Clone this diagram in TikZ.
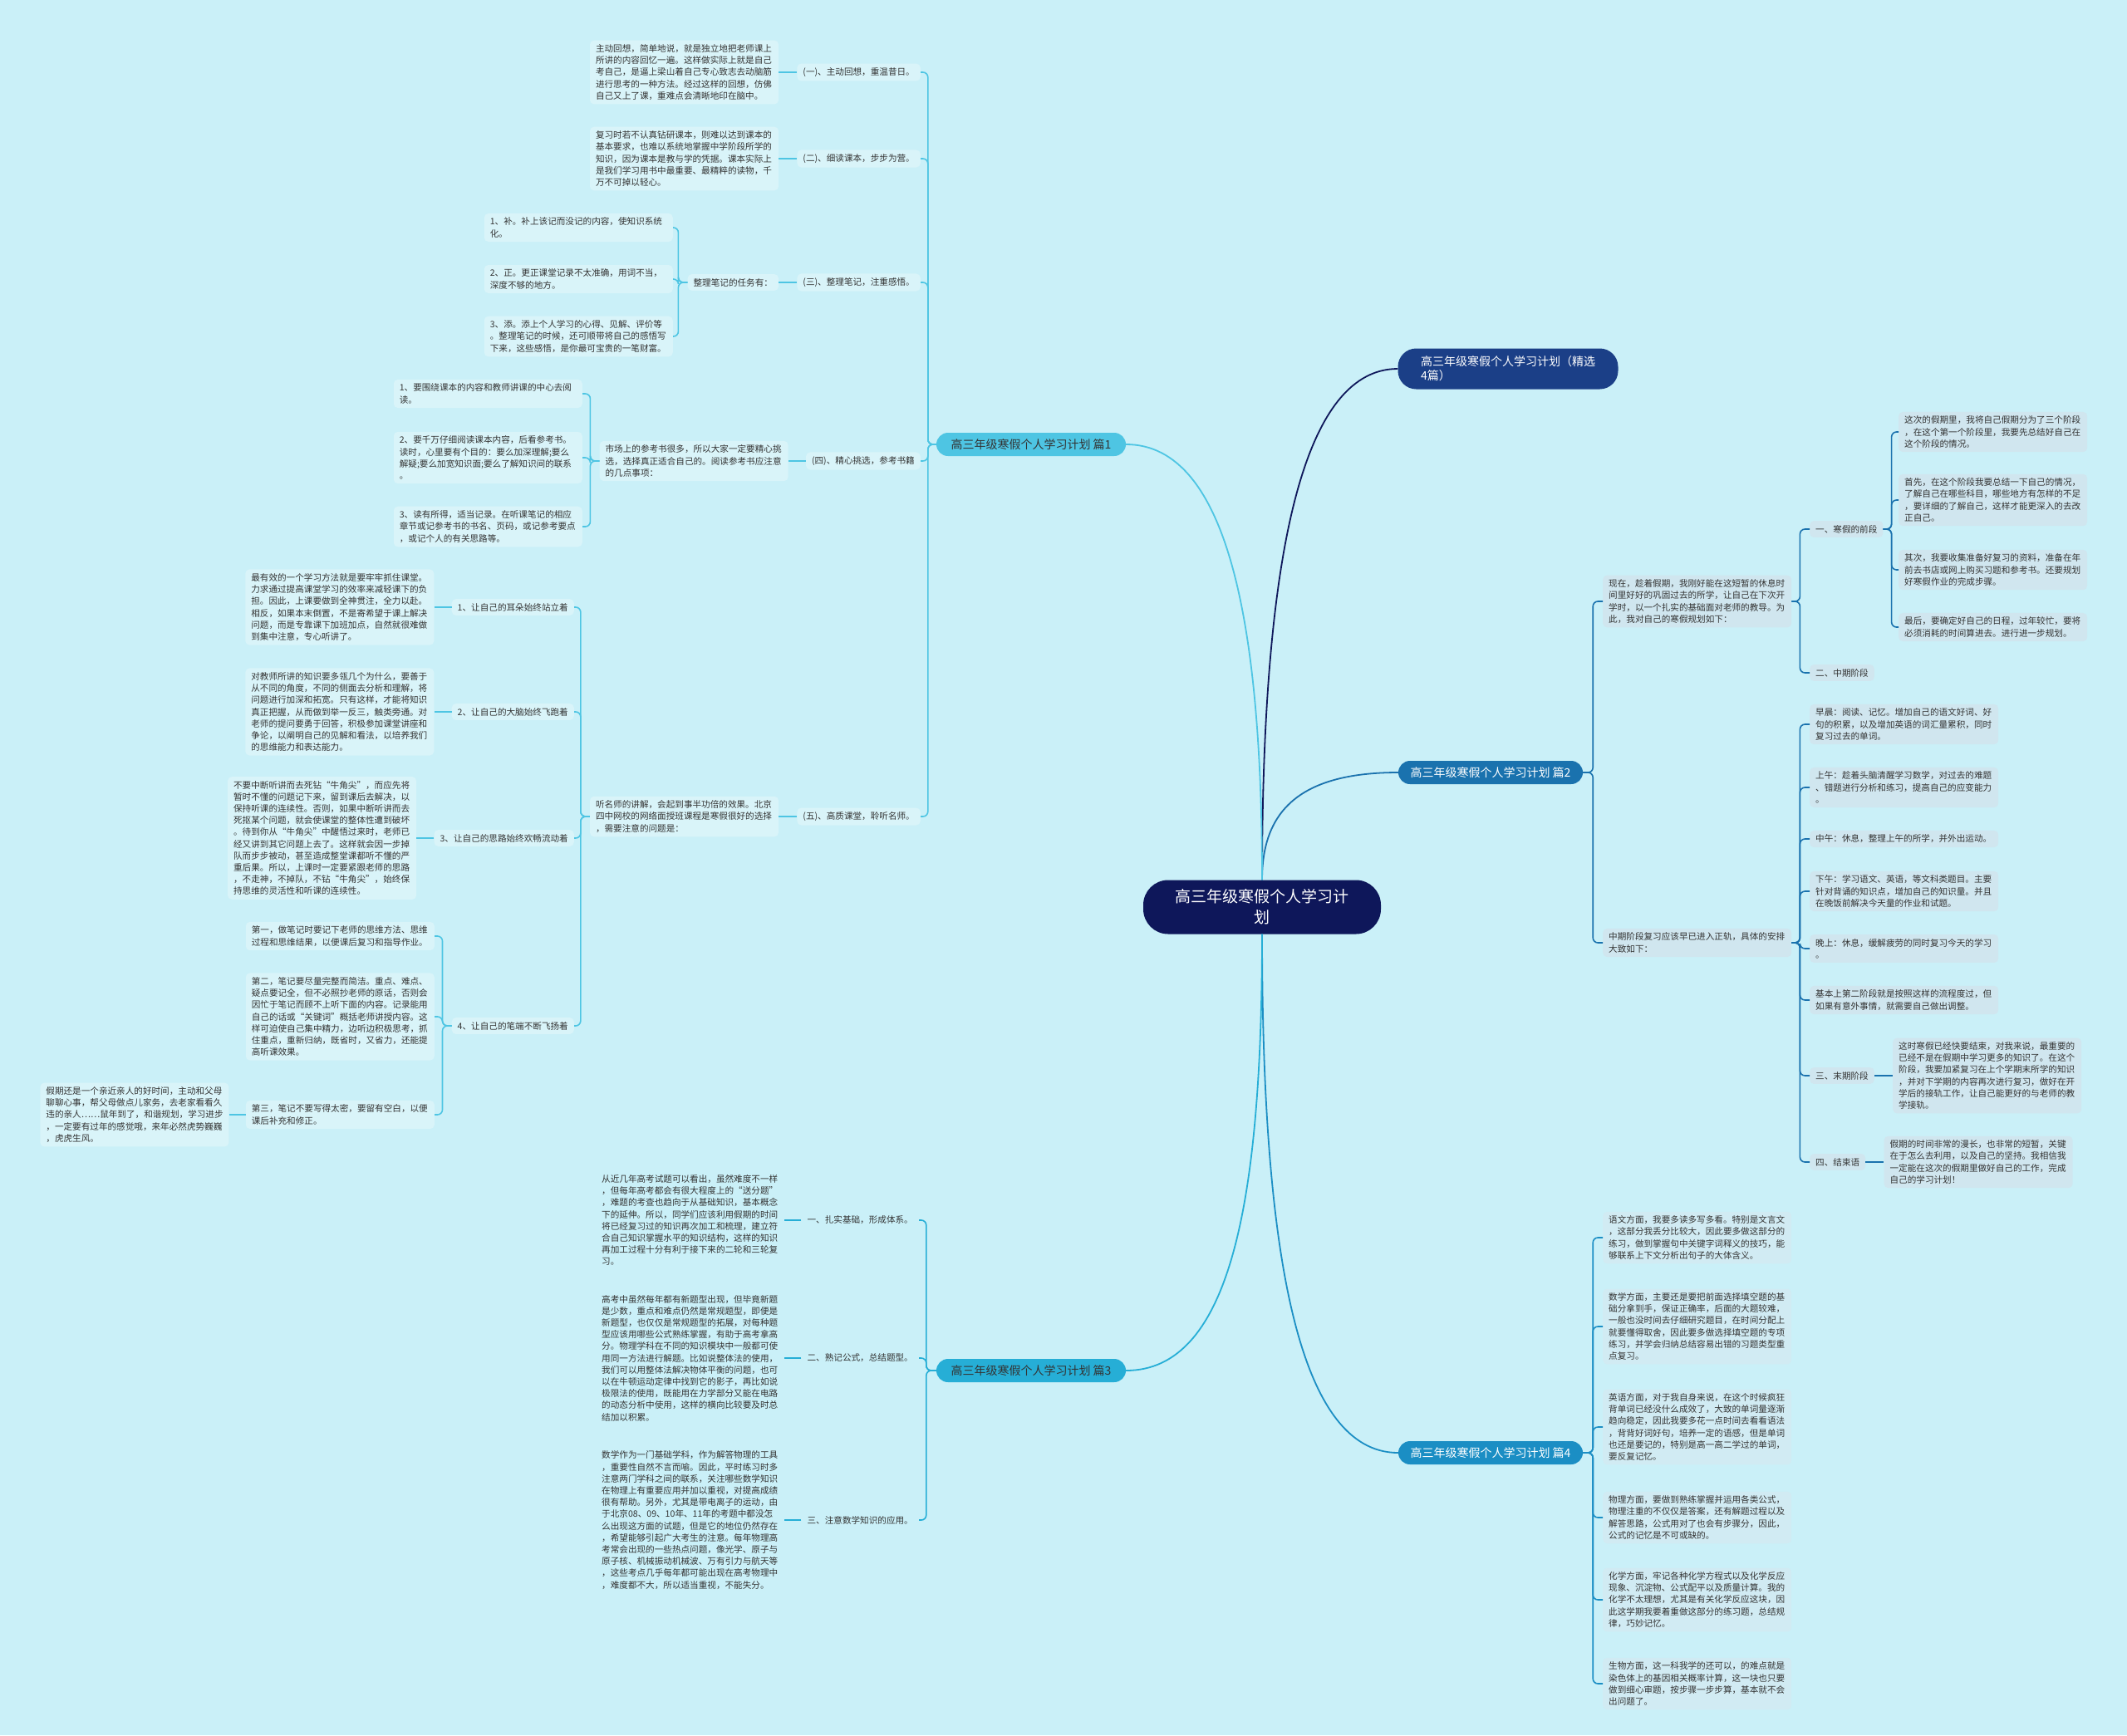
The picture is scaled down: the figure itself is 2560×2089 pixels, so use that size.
\documentclass[tikz,border=0pt]{standalone}
\usepackage{fontspec}
\setmainfont{Noto Sans CJK SC}
\usepackage{xcolor}
\usepackage{tikz}
\usetikzlibrary{positioning}
\definecolor{paperCyan}{HTML}{CAF0F8}
\definecolor{rootNavy}{HTML}{0E175A}
\definecolor{topBlue}{HTML}{1B3F87}
\definecolor{twoBlue}{HTML}{1A72AE}
\definecolor{fourBlue}{HTML}{1B8EC4}
\definecolor{oneCyan}{HTML}{4EC5E3}
\definecolor{threeCyan}{HTML}{26AED6}
\definecolor{oneBox}{HTML}{D9F4F9}
\definecolor{twoBox}{HTML}{D0E6EF}
\definecolor{fourBox}{HTML}{D1EBF3}
\definecolor{noteGray}{HTML}{333333}
\newcommand{\notefont}{\fontsize{10.6}{14.2}\selectfont}
\tikzset{
  root/.style={fill=rootNavy,text=white,rounded corners=30pt,minimum width=286pt,
    minimum height=65pt,align=center,font=\fontsize{19}{25}\selectfont},
  pill/.style={rounded corners=14pt,minimum height=28pt,inner xsep=14pt,
    font=\fontsize{14}{17}\selectfont},
  note/.style={text width=213pt,align=left,inner xsep=7pt,inner ysep=5pt,
    rounded corners=5pt,text=noteGray,font=\notefont},
  tag/.style={inner xsep=7pt,inner ysep=5pt,rounded corners=5pt,text=noteGray,font=\notefont},
  oneLink/.style={draw=oneCyan,line width=1.6pt,rounded corners=6pt},
  twoLink/.style={draw=twoBlue,line width=1.6pt,rounded corners=6pt},
  threeLink/.style={draw=threeCyan,line width=1.6pt,rounded corners=6pt},
  fourLink/.style={draw=fourBlue,line width=1.6pt,rounded corners=6pt}
}
\begin{document}
\begin{tikzpicture}[x=1pt,y=-1pt]
  \useasboundingbox (0,0) rectangle (2560,2089);
  \fill[paperCyan] (0,0) rectangle (2560,2089);

  % centre and main branches
  \node[root] (root) at (1519,1092) {高三年级寒假个人学习计\\划};
  \node[pill,fill=topBlue,text=white,minimum width=265pt,minimum height=49pt,
    rounded corners=22pt,align=left] (top) at (1815,444) {高三年级寒假个人学习计划（精选\\4篇）};
  \node[pill,fill=twoBlue,text=white,minimum width=222pt] (p2) at (1794,930) {高三年级寒假个人学习计划 篇2};
  \node[pill,fill=fourBlue,text=white,minimum width=222pt] (p4) at (1794,1749) {高三年级寒假个人学习计划 篇4};
  \node[pill,fill=oneCyan,text=noteGray,minimum width=228pt] (p1) at (1241,535) {高三年级寒假个人学习计划 篇1};
  \node[pill,fill=threeCyan,text=noteGray,minimum width=228pt] (p3) at (1241,1650) {高三年级寒假个人学习计划 篇3};

  \draw[draw=rootNavy,line width=1.8pt] (root.north) .. controls (1519,700) and (1560,444) .. (top.west);
  \draw[draw=twoBlue,line width=1.8pt] (root.north) .. controls (1519,980) and (1560,930) .. (p2.west);
  \draw[draw=fourBlue,line width=1.8pt] (root.south) .. controls (1519,1500) and (1560,1749) .. (p4.west);
  \draw[draw=oneCyan,line width=1.8pt] (root.north) .. controls (1519,760) and (1480,535) .. (p1.east);
  \draw[draw=threeCyan,line width=1.8pt] (root.south) .. controls (1519,1450) and (1480,1650) .. (p3.east);

  % 篇1
  \node[tag,fill=oneBox,anchor=east] (s1) at (1108,87) {(一)、主动回想，重温昔日。};
  \node[tag,fill=oneBox,anchor=east] (s2) at (1108,191) {(二)、细读课本，步步为营。};
  \node[tag,fill=oneBox,anchor=east] (s3) at (1108,340) {(三)、整理笔记，注重感悟。};
  \node[tag,fill=oneBox,anchor=east] (s4) at (1108,555) {(四)、精心挑选，参考书籍};
  \node[tag,fill=oneBox,anchor=east] (s5) at (1108,983) {(五)、高质课堂，聆听名师。};
  \foreach \n in {s1,s2,s3,s4,s5}
    \draw[oneLink] (p1.west) -- ++(-10,0) |- (\n.east);

  \node[note,fill=oneBox,left=22pt of s1] (t1) {主动回想，简单地说，就是独立地把老师课上\\所讲的内容回忆一遍。这样做实际上就是自己\\考自己，是逼上梁山着自己专心致志去动脑筋\\进行思考的一种方法。经过这样的回想，仿佛\\自己又上了课，重难点会清晰地印在脑中。};
  \node[note,fill=oneBox,left=22pt of s2] (t2) {复习时若不认真钻研课本，则难以达到课本的\\基本要求，也难以系统地掌握中学阶段所学的\\知识，因为课本是教与学的凭据。课本实际上\\是我们学习用书中最重要、最精粹的读物，千\\万不可掉以轻心。};
  \node[tag,fill=oneBox,left=22pt of s3] (t3) {整理笔记的任务有：};
  \node[note,fill=oneBox,left=21pt of s4] (t4) {市场上的参考书很多，所以大家一定要精心挑\\选，选择真正适合自己的。阅读参考书应注意\\的几点事项：};
  \node[note,fill=oneBox,left=22pt of s5] (t5) {听名师的讲解，会起到事半功倍的效果。北京\\四中网校的网络面授班课程是寒假很好的选择\\，需要注意的问题是：};
  \foreach \n in {1,2,3,4,5}
    \draw[oneLink] (s\n.west) -- (t\n.east);

  \node[note,fill=oneBox,anchor=east] (u1) at (810,274) {1、补。补上该记而没记的内容，使知识系统\\化。};
  \node[note,fill=oneBox,anchor=east] (u2) at (810,336) {2、正。更正课堂记录不太准确，用词不当，\\深度不够的地方。};
  \node[note,fill=oneBox,anchor=east] (u3) at (810,405) {3、添。添上个人学习的心得、见解、评价等\\。整理笔记的时候，还可顺带将自己的感悟写\\下来，这些感悟，是你最可宝贵的一笔财富。};
  \foreach \n in {u1,u2,u3}
    \draw[oneLink] (t3.west) -- ++(-11,0) |- (\n.east);

  \node[note,fill=oneBox,anchor=east] (v1) at (701,474) {1、要围绕课本的内容和教师讲课的中心去阅\\读。};
  \node[note,fill=oneBox,anchor=east] (v2) at (701,551) {2、要千万仔细阅读课本内容，后看参考书。\\读时，心里要有个目的：要么加深理解;要么\\解疑;要么加宽知识面;要么了解知识间的联系\\。};
  \node[note,fill=oneBox,anchor=east] (v3) at (701,634) {3、读有所得，适当记录。在听课笔记的相应\\章节或记参考书的书名、页码，或记参考要点\\，或记个人的有关思路等。};
  \foreach \n in {v1,v2,v3}
    \draw[oneLink] (t4.west) -- ++(-11,0) |- (\n.east);

  \node[tag,fill=oneBox,anchor=east] (w1) at (691,731) {1、让自己的耳朵始终站立着};
  \node[tag,fill=oneBox,anchor=east] (w2) at (691,857) {2、让自己的大脑始终飞跑着};
  \node[tag,fill=oneBox,anchor=east] (w3) at (691,1009) {3、让自己的思路始终欢畅流动着};
  \node[tag,fill=oneBox,anchor=east] (w4) at (691,1235) {4、让自己的笔端不断飞扬着};
  \foreach \n in {w1,w2,w3,w4}
    \draw[oneLink] (t5.west) -- ++(-11,0) |- (\n.east);

  \node[note,fill=oneBox,left=21pt of w1] (x1) {最有效的一个学习方法就是要牢牢抓住课堂。\\力求通过提高课堂学习的效率来减轻课下的负\\担。因此，上课要做到全神贯注，全力以赴。\\相反，如果本末倒置，不是寄希望于课上解决\\问题，而是专靠课下加班加点，自然就很难做\\到集中注意，专心听讲了。};
  \node[note,fill=oneBox,left=21pt of w2] (x2) {对教师所讲的知识要多瓴几个为什么，要善于\\从不同的角度，不同的侧面去分析和理解，将\\问题进行加深和拓宽。只有这样，才能将知识\\真正把握，从而做到举一反三，触类旁通。对\\老师的提问要勇于回答，积极参加课堂讲座和\\争论，以阐明自己的见解和看法，以培养我们\\的思维能力和表达能力。};
  \node[note,fill=oneBox,left=21pt of w3] (x3) {不要中断听讲而去死钻“牛角尖”，而应先将\\暂时不懂的问题记下来，留到课后去解决，以\\保持听课的连续性。否则，如果中断听讲而去\\死抠某个问题，就会使课堂的整体性遭到破坏\\。待到你从“牛角尖”中醒悟过来时，老师已\\经又讲到其它问题上去了。这样就会因一步掉\\队而步步被动，甚至造成整堂课都听不懂的严\\重后果。所以，上课时一定要紧跟老师的思路\\，不走神，不掉队，不钻“牛角尖”，始终保\\持思维的灵活性和听课的连续性。};
  \foreach \n in {1,2,3}
    \draw[oneLink] (w\n.west) -- (x\n.east);

  \node[note,fill=oneBox,anchor=east] (y1) at (523,1127) {第一，做笔记时要记下老师的思维方法、思维\\过程和思维结果，以便课后复习和指导作业。};
  \node[note,fill=oneBox,anchor=east] (y2) at (523,1224) {第二，笔记要尽量完整而简洁。重点、难点、\\疑点要记全，但不必照抄老师的原话，否则会\\因忙于笔记而顾不上听下面的内容。记录能用\\自己的话或“关键词”概括老师讲授内容。这\\样可迫使自己集中精力，边听边积极思考，抓\\住重点，重新归纳，既省时，又省力，还能提\\高听课效果。};
  \node[note,fill=oneBox,anchor=east] (y3) at (523,1342) {第三，笔记不要写得太密，要留有空白，以便\\课后补充和修正。};
  \foreach \n in {y1,y2,y3}
    \draw[oneLink] (w4.west) -- ++(-11,0) |- (\n.east);
  \node[note,fill=oneBox,left=20pt of y3] (y4) {假期还是一个亲近亲人的好时间，主动和父母\\聊聊心事，帮父母做点儿家务，去老家看看久\\违的亲人……鼠年到了，和谐规划，学习进步\\，一定要有过年的感觉哦，来年必然虎势巍巍\\，虎虎生风。};
  \draw[oneLink] (y3.west) -- (y4.east);

  % 篇3
  \node[tag,anchor=east] (r1) at (1106,1469) {一、扎实基础，形成体系。};
  \node[tag,anchor=east] (r2) at (1106,1635) {二、熟记公式，总结题型。};
  \node[tag,anchor=east] (r3) at (1106,1830) {三、注意数学知识的应用。};
  \foreach \n in {r1,r2,r3}
    \draw[threeLink] (p3.west) -- ++(-12,0) |- (\n.east);
  \node[note,left=20pt of r1] (q1) {从近几年高考试题可以看出，虽然难度不一样\\，但每年高考都会有很大程度上的“送分题”\\，难题的考查也趋向于从基础知识，基本概念\\下的延伸。所以，同学们应该利用假期的时间\\将已经复习过的知识再次加工和梳理，建立符\\合自己知识掌握水平的知识结构，这样的知识\\再加工过程十分有利于接下来的二轮和三轮复\\习。};
  \node[note,left=20pt of r2] (q2) {高考中虽然每年都有新题型出现，但毕竟新题\\是少数，重点和难点仍然是常规题型，即便是\\新题型，也仅仅是常规题型的拓展，对每种题\\型应该用哪些公式熟练掌握，有助于高考拿高\\分。物理学科在不同的知识模块中一般都可使\\用同一方法进行解题。比如说整体法的使用，\\我们可以用整体法解决物体平衡的问题，也可\\以在牛顿运动定律中找到它的影子，再比如说\\极限法的使用，既能用在力学部分又能在电路\\的动态分析中使用，这样的横向比较要及时总\\结加以积累。};
  \node[note,left=20pt of r3] (q3) {数学作为一门基础学科，作为解答物理的工具\\，重要性自然不言而喻。因此，平时练习时多\\注意两门学科之间的联系，关注哪些数学知识\\在物理上有重要应用并加以重视，对提高成绩\\很有帮助。另外，尤其是带电离子的运动，由\\于北京08、09、10年、11年的考题中都没怎\\么出现这方面的试题，但是它的地位仍然存在\\，希望能够引起广大考生的注意。每年物理高\\考常会出现的一些热点问题，像光学、原子与\\原子核、机械振动机械波、万有引力与航天等\\，这些考点几乎每年都可能出现在高考物理中\\，难度都不大，所以适当重视，不能失分。};
  \foreach \n in {1,2,3}
    \draw[threeLink] (r\n.west) -- (q\n.east);

  % 篇2
  \node[note,fill=twoBox,anchor=west] (e0) at (1929,724) {现在，趁着假期，我刚好能在这短暂的休息时\\间里好好的巩固过去的所学，让自己在下次开\\学时，以一个扎实的基础面对老师的教导。为\\此，我对自己的寒假规划如下：};
  \node[note,fill=twoBox,anchor=west] (f0) at (1929,1135) {中期阶段复习应该早已进入正轨，具体的安排\\大致如下：};
  \foreach \n in {e0,f0}
    \draw[twoLink] (p2.east) -- ++(12,0) |- (\n.west);

  \node[tag,fill=twoBox,anchor=west] (e1) at (2178,637) {一、寒假的前段};
  \node[tag,fill=twoBox,anchor=west] (e2) at (2178,810) {二、中期阶段};
  \foreach \n in {e1,e2}
    \draw[twoLink] (e0.east) -- ++(10,0) |- (\n.west);

  \node[note,fill=twoBox,anchor=west] (g1) at (2285,520) {这次的假期里，我将自己假期分为了三个阶段\\，在这个第一个阶段里，我要先总结好自己在\\这个阶段的情况。};
  \node[note,fill=twoBox,anchor=west] (g2) at (2285,602) {首先，在这个阶段我要总结一下自己的情况，\\了解自己在哪些科目，哪些地方有怎样的不足\\，要详细的了解自己，这样才能更深入的去改\\正自己。};
  \node[note,fill=twoBox,anchor=west] (g3) at (2285,686) {其次，我要收集准备好复习的资料，准备在年\\前去书店或网上购买习题和参考书。还要规划\\好寒假作业的完成步骤。};
  \node[note,fill=twoBox,anchor=west] (g4) at (2285,755) {最后，要确定好自己的日程，过年较忙，要将\\必须消耗的时间算进去。进行进一步规划。};
  \foreach \n in {g1,g2,g3,g4}
    \draw[twoLink] (e1.east) -- ++(10,0) |- (\n.west);

  \node[note,fill=twoBox,anchor=west] (h1) at (2178,872) {早晨：阅读、记忆。增加自己的语文好词、好\\句的积累，以及增加英语的词汇量累积，同时\\复习过去的单词。};
  \node[note,fill=twoBox,anchor=west] (h2) at (2178,948) {上午：趁着头脑清醒学习数学，对过去的难题\\、错题进行分析和练习，提高自己的应变能力\\。};
  \node[note,fill=twoBox,anchor=west] (h3) at (2178,1010) {中午：休息，整理上午的所学，并外出运动。};
  \node[note,fill=twoBox,anchor=west] (h4) at (2178,1073) {下午：学习语文、英语，等文科类题目。主要\\针对背诵的知识点，增加自己的知识量。并且\\在晚饭前解决今天量的作业和试题。};
  \node[note,fill=twoBox,anchor=west] (h5) at (2178,1142) {晚上：休息，缓解疲劳的同时复习今天的学习\\。};
  \node[note,fill=twoBox,anchor=west] (h6) at (2178,1204) {基本上第二阶段就是按照这样的流程度过，但\\如果有意外事情，就需要自己做出调整。};
  \node[tag,fill=twoBox,anchor=west] (h7) at (2178,1295) {三、末期阶段};
  \node[tag,fill=twoBox,anchor=west] (h8) at (2178,1399) {四、结束语};
  \foreach \n in {h1,h2,h3,h4,h5,h6,h7,h8}
    \draw[twoLink] (f0.east) -- ++(10,0) |- (\n.west);

  \node[note,fill=twoBox,right=22pt of h7] (k1) {这时寒假已经快要结束，对我来说，最重要的\\已经不是在假期中学习更多的知识了。在这个\\阶段，我要加紧复习在上个学期末所学的知识\\，并对下学期的内容再次进行复习，做好在开\\学后的接轨工作，让自己能更好的与老师的教\\学接轨。};
  \node[note,fill=twoBox,right=22pt of h8] (k2) {假期的时间非常的漫长，也非常的短暂，关键\\在于怎么去利用，以及自己的坚持。我相信我\\一定能在这次的假期里做好自己的工作，完成\\自己的学习计划！};
  \draw[twoLink] (h7.east) -- (k1.west);
  \draw[twoLink] (h8.east) -- (k2.west);

  % 篇4
  \node[note,fill=fourBox,anchor=west] (m1) at (1929,1490) {语文方面，我要多读多写多看。特别是文言文\\，这部分我丢分比较大，因此要多做这部分的\\练习，做到掌握句中关键字词释义的技巧，能\\够联系上下文分析出句子的大体含义。};
  \node[note,fill=fourBox,anchor=west] (m2) at (1929,1597) {数学方面，主要还是要把前面选择填空题的基\\础分拿到手，保证正确率，后面的大题较难，\\一般也没时间去仔细研究题目，在时间分配上\\就要懂得取舍，因此要多做选择填空题的专项\\练习，并学会归纳总结容易出错的习题类型重\\点复习。};
  \node[note,fill=fourBox,anchor=west] (m3) at (1929,1718) {英语方面，对于我自身来说，在这个时候疯狂\\背单词已经没什么成效了，大致的单词量逐渐\\趋向稳定，因此我要多花一点时间去看看语法\\，背背好词好句，培养一定的语感，但是单词\\也还是要记的，特别是高一高二学过的单词，\\要反复记忆。};
  \node[note,fill=fourBox,anchor=west] (m4) at (1929,1827) {物理方面，要做到熟练掌握并运用各类公式，\\物理注重的不仅仅是答案，还有解题过程以及\\解答思路，公式用对了也会有步骤分，因此，\\公式的记忆是不可或缺的。};
  \node[note,fill=fourBox,anchor=west] (m5) at (1929,1926) {化学方面，牢记各种化学方程式以及化学反应\\现象、沉淀物、公式配平以及质量计算。我的\\化学不太理想，尤其是有关化学反应这块，因\\此这学期我要着重做这部分的练习题，总结规\\律，巧妙记忆。};
  \node[note,fill=fourBox,anchor=west] (m6) at (1929,2027) {生物方面，这一科我学的还可以，的难点就是\\染色体上的基因相关概率计算，这一块也只要\\做到细心审题，按步骤一步步算，基本就不会\\出问题了。};
  \foreach \n in {m1,m2,m3,m4,m5,m6}
    \draw[fourLink] (p4.east) -- ++(12,0) |- (\n.west);
\end{tikzpicture}
\end{document}
